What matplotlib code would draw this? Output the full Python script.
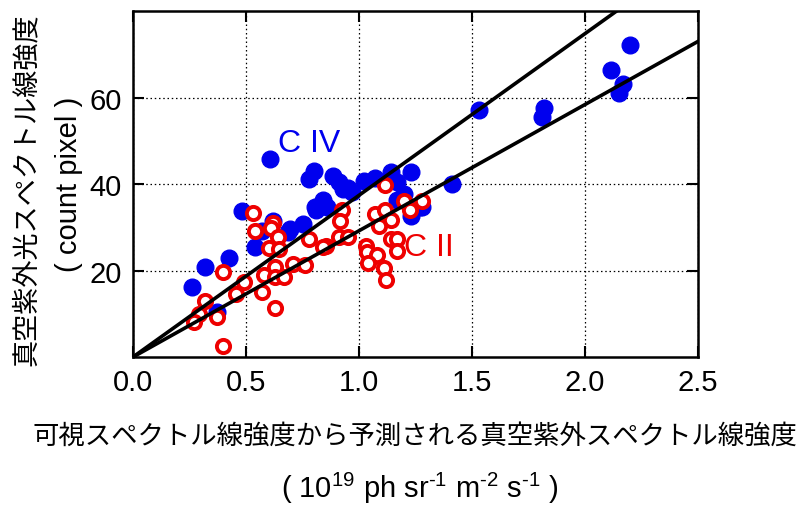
import numpy as np
import matplotlib
matplotlib.use("Agg")
import matplotlib.pyplot as plt

# C IV (blue, filled)
civ_x = [2.20, 2.115, 2.17, 2.15, 1.53, 1.82, 1.81, 1.41, 1.28,
         0.606, 0.80, 0.78, 0.885, 0.91, 0.95, 0.97, 1.02, 1.07, 1.14, 1.23,
         1.17, 1.20, 1.17, 1.27, 1.23, 0.805, 0.86, 0.84, 0.93, 0.75, 0.695,
         0.81, 0.48, 0.57, 0.62, 0.686, 0.54, 0.425, 0.32, 0.26, 0.37]
civ_y = [72.2, 66.4, 63.2, 61.1, 57.2, 57.7, 55.4, 40.0, 34.6,
         45.7, 43.0, 41.1, 41.8, 40.4, 39.2, 38.1, 40.6, 41.5, 42.9, 42.7,
         40.4, 37.6, 36.4, 34.6, 32.5, 34.6, 34.8, 36.4, 38.8, 30.7, 29.5,
         34.1, 33.7, 29.1, 31.4, 28.8, 25.4, 22.8, 20.8, 16.1, 10.4]

# C II (red, open)
cii_x = [0.53, 0.54, 0.62, 0.61, 0.64, 0.60, 0.645, 0.78, 0.855, 0.40,
         0.63, 0.58, 0.63, 0.67, 0.49, 0.71, 0.76, 0.455, 0.57, 0.32,
         0.29, 0.27, 0.37, 0.63, 0.40,
         1.115, 0.925, 0.915, 0.91, 0.95, 0.84, 1.07, 1.115, 1.14, 1.09,
         1.20, 1.28, 1.225, 1.14, 1.17, 1.17, 1.03, 1.035, 1.08, 1.04,
         1.11, 1.12]
cii_y = [33.2, 29.1, 31.1, 29.8, 27.7, 25.1, 24.9, 27.4, 25.6, 19.6,
         20.8, 18.9, 18.5, 18.5, 17.3, 21.5, 21.2, 14.5, 15.0, 12.9,
         9.9, 8.1, 9.2, 11.3, 2.5,
         39.9, 34.1, 31.4, 27.7, 27.7, 25.4, 33.0, 34.1, 31.8, 30.2,
         36.0, 36.0, 34.1, 27.2, 27.2, 24.5, 25.6, 24.2, 23.5, 21.7,
         20.5, 17.8]

# slopes of the two lines through the origin
slopes = [37.4, 29.2]

xticks = [0.0, 0.5, 1.0, 1.5, 2.0, 2.5]
yticks = [20, 40, 60]

num_font = "Liberation Sans"
jp = ["Noto Sans CJK JP", "DejaVu Sans"]

plt.rcParams["mathtext.fontset"] = "custom"
plt.rcParams["mathtext.rm"] = num_font
plt.rcParams["mathtext.it"] = num_font

fig = plt.figure(figsize=(7.98, 5.06), dpi=100)
ax = fig.add_axes([0.1667, 0.2925, 0.708, 0.6835])

ax.plot(civ_x, civ_y, "o", color="#0000ee", markersize=12, zorder=2)
ax.plot(cii_x, cii_y, "o", mfc="white", mec="#ee0000", mew=2.8,
        markersize=9.5, zorder=3)

xx = np.array([0.0, 2.5])
for s in slopes:
    ax.plot(xx, s * xx, color="black", lw=2.6, zorder=4)

ax.set_xlim(0, 2.5)
ax.set_ylim(0, 80)
ax.set_xticks(xticks)
ax.set_yticks(yticks)
ax.set_xticklabels(["%.1f" % v for v in xticks], fontsize=21, family=num_font)
ax.set_yticklabels([str(v) for v in yticks], fontsize=21, family=num_font)
ax.tick_params(direction="in", length=8, width=1.5, top=True, right=True, pad=8)
ax.grid(True, linestyle=(0, (1.2, 2.2)), color="black", lw=0.9)
for sp in ax.spines.values():
    sp.set_linewidth(1.8)

ax.text(0.78, 49.6, "C IV", color="#0000ee", fontsize=23, ha="center",
        va="center", family="Liberation Sans")
ax.text(1.31, 25.4, "C II", color="#ee0000", fontsize=23, ha="center",
        va="center", family="Liberation Sans")

fig.text(0.033, 0.625, "真空紫外光スペクトル線強度", rotation=90, fontsize=19.5,
         ha="center", va="center", family=jp)
fig.text(0.086, 0.635, "( count pixel )", rotation=90, fontsize=21,
         ha="center", va="center", family=num_font)
fig.text(0.52, 0.137, "可視スペクトル線強度から予測される真空紫外スペクトル線強度",
         fontsize=19, ha="center", va="center", family=jp)
fig.text(0.526, 0.035, r"( 10$^{19}$ ph sr$^{\text{-1}}$ m$^{\text{-2}}$ s$^{\text{-1}}$ )",
         fontsize=21, ha="center", va="center", family=num_font)

fig.savefig("out.png", dpi=100)
